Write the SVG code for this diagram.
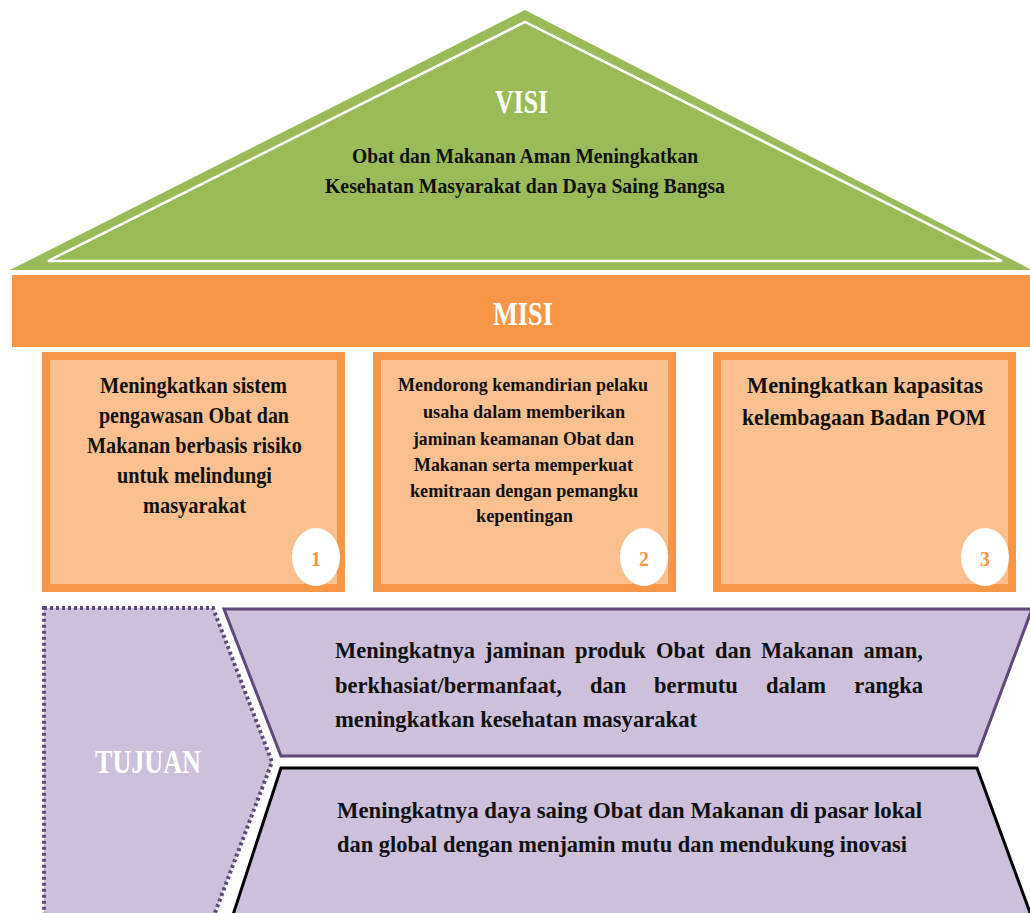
<svg xmlns="http://www.w3.org/2000/svg" width="1030" height="913" viewBox="0 0 1030 913">
<style>
text{font-family:"Liberation Serif","DejaVu Serif",serif;font-weight:bold;}
.dark{fill:#111111;}
.white{fill:#ffffff;}
.box{fill:#FAC090;stroke:#F79646;stroke-width:8;}
.num{fill:#F79646;font-size:20px;text-anchor:middle;}
.b1{font-size:24px;}
.b2{font-size:19px;}
.tj{font-size:22.5px;}
.end{text-anchor:end;}
</style>
<rect width="1030" height="913" fill="#ffffff"/>
<g id="visi">
<polygon points="10,270 525,10 1032,270" fill="#9BBB59"/>
<polygon points="48,261 525,22 1002,261" fill="none" stroke="#ffffff" stroke-width="2.5"/>
<text class="white" x="495" y="113" font-size="34" textLength="53" lengthAdjust="spacingAndGlyphs">VISI</text>
<text class="dark" x="352" y="163" font-size="22" textLength="346" lengthAdjust="spacingAndGlyphs">Obat dan Makanan Aman Meningkatkan</text>
<text class="dark" x="325" y="193" font-size="22" textLength="400" lengthAdjust="spacingAndGlyphs">Kesehatan Masyarakat dan Daya Saing Bangsa</text>
</g>
<g id="misi">
<rect x="12" y="275" width="1018" height="72" fill="#F79646"/>
<text class="white" x="493" y="325" font-size="34" textLength="60" lengthAdjust="spacingAndGlyphs">MISI</text>
</g>
<g id="misi1">
<rect class="box" x="46" y="356" width="295" height="232"/>
<ellipse cx="316" cy="557" rx="24" ry="29" fill="#ffffff"/>
<text class="num" x="316" y="566">1</text>
<text class="dark b1" x="100" y="393" textLength="187" lengthAdjust="spacingAndGlyphs">Meningkatkan sistem</text>
<text class="dark b1" x="99" y="423" textLength="190" lengthAdjust="spacingAndGlyphs">pengawasan Obat dan</text>
<text class="dark b1" x="87" y="453" textLength="215" lengthAdjust="spacingAndGlyphs">Makanan berbasis risiko</text>
<text class="dark b1" x="117" y="483" textLength="155" lengthAdjust="spacingAndGlyphs">untuk melindungi</text>
<text class="dark b1" x="143" y="513" textLength="103" lengthAdjust="spacingAndGlyphs">masyarakat</text>
</g>
<g id="misi2">
<rect class="box" x="377" y="356" width="295" height="232"/>
<ellipse cx="644" cy="557" rx="24" ry="29" fill="#ffffff"/>
<text class="num" x="644" y="566">2</text>
<text class="dark b2" x="398" y="391" textLength="250" lengthAdjust="spacingAndGlyphs">Mendorong kemandirian pelaku</text>
<text class="dark b2" x="423" y="418" textLength="202" lengthAdjust="spacingAndGlyphs">usaha dalam memberikan</text>
<text class="dark b2" x="413" y="445" textLength="221" lengthAdjust="spacingAndGlyphs">jaminan keamanan Obat dan</text>
<text class="dark b2" x="414" y="471" textLength="219" lengthAdjust="spacingAndGlyphs">Makanan serta memperkuat</text>
<text class="dark b2" x="410" y="497" textLength="228" lengthAdjust="spacingAndGlyphs">kemitraan dengan pemangku</text>
<text class="dark b2" x="476" y="522" textLength="97" lengthAdjust="spacingAndGlyphs">kepentingan</text>
</g>
<g id="misi3">
<rect class="box" x="717" y="356" width="295" height="232"/>
<ellipse cx="985" cy="557" rx="24" ry="29" fill="#ffffff"/>
<text class="num" x="985" y="566">3</text>
<text class="dark b1" x="747" y="393" textLength="236" lengthAdjust="spacingAndGlyphs">Meningkatkan kapasitas</text>
<text class="dark b1" x="742" y="425" textLength="244" lengthAdjust="spacingAndGlyphs">kelembagaan Badan POM</text>
</g>
<g id="tujuan">
<polygon points="44,608 213,608 272,762 213,918 44,918" fill="#CCC0DA" stroke="#5F497A" stroke-width="4" stroke-dasharray="3 3"/>
<text class="white" x="95" y="773" font-size="33" textLength="106" lengthAdjust="spacingAndGlyphs">TUJUAN</text>
</g>
<g id="tujuan1">
<polygon points="224,609 1032,609 977,756 281,756" fill="#CCC0DA" stroke="#5F497A" stroke-width="3"/>
<text class="dark tj" x="335" y="658">Meningkatnya</text>
<text class="dark tj" x="485" y="658">jaminan</text>
<text class="dark tj" x="575" y="658">produk</text>
<text class="dark tj" x="656" y="658">Obat</text>
<text class="dark tj" x="715" y="658">dan</text>
<text class="dark tj" x="761" y="658">Makanan</text>
<text class="dark tj end" x="923" y="658">aman,</text>
<text class="dark tj" x="335" y="693">berkhasiat/bermanfaat,</text>
<text class="dark tj" x="590" y="693">dan</text>
<text class="dark tj" x="654" y="693">bermutu</text>
<text class="dark tj" x="766" y="693">dalam</text>
<text class="dark tj end" x="923" y="693">rangka</text>
<text class="dark tj" x="335" y="727" textLength="362" lengthAdjust="spacingAndGlyphs">meningkatkan kesehatan masyarakat</text>
</g>
<g id="tujuan2">
<polygon points="281,768 977,768 1032,918 232,918" fill="#CCC0DA" stroke="#000000" stroke-width="3"/>
<text class="dark tj" x="337" y="818" textLength="585" lengthAdjust="spacingAndGlyphs">Meningkatnya daya saing Obat dan Makanan di pasar lokal</text>
<text class="dark tj" x="337" y="852" textLength="570" lengthAdjust="spacingAndGlyphs">dan global dengan menjamin mutu dan mendukung inovasi</text>
</g>
<g id="connectors"></g>
</svg>
